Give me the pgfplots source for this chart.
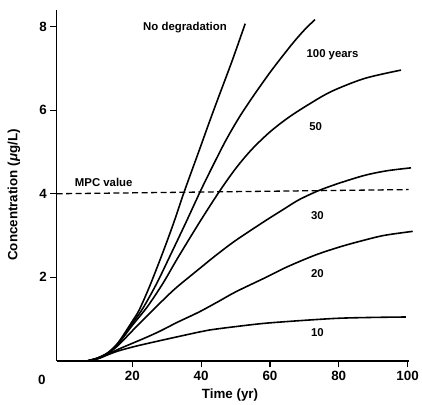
\documentclass[border=0pt]{standalone}
\usepackage{pgfplots}
\pgfplotsset{compat=1.18}
\usepackage{fontspec}
\setmainfont{Liberation Sans}
\pgfplotsset{curve/.style={black, solid, line width=1.6bp, smooth, mark=none}}
\begin{document}
\begin{tikzpicture}
\begin{axis}[
  scale only axis,
  width=354bp, height=353bp,
  xmin=-2, xmax=100.3,
  ymin=0, ymax=8.4,
  axis x line=bottom, axis y line=left,
  axis line style={-, line width=1.3bp},
  xtick={20,40,60,80,100},
  xticklabels={\textbf{20},\textbf{40},\textbf{60},\textbf{80},\textbf{100}},
  ytick={2,4,6,8},
  yticklabels={\textbf{2},\textbf{4},\textbf{6},\textbf{8}},
  tick align=outside,
  major tick length=6.5bp,
  tick style={line width=1.2bp, black},
  ticklabel style={font=\fontsize{13.5}{16}\selectfont\bfseries},
  clip=false,
]
% no degradation
\addplot[curve] coordinates {(7,0)(10,0.07)(13,0.2)(16,0.45)(20,0.95)(22,1.22)(25,1.78)(28.8,2.58)(32,3.3)(35,4.03)(39.4,5.03)(42.4,5.72)(45,6.3)(49,7.18)(52.8,8.07)};
% 100 years
\addplot[curve] coordinates {(7,0)(10,0.07)(13,0.2)(16,0.43)(20,0.9)(23,1.25)(27,1.84)(31,2.52)(35.5,3.3)(39.6,4.03)(42.5,4.52)(47,5.25)(51,5.82)(55,6.32)(59.8,6.88)(62,7.12)(66.6,7.6)(70,7.92)(73.1,8.17)};
% 50
\addplot[curve] coordinates {(7,0)(10,0.07)(13,0.19)(16,0.42)(20,0.85)(24.4,1.3)(29,1.87)(33.1,2.45)(39.4,3.3)(45.1,4.03)(50,4.6)(54.7,5.06)(60,5.48)(65.3,5.82)(71.1,6.13)(77.9,6.45)(87.5,6.76)(98.1,6.96)};
% 30
\addplot[curve] coordinates {(7,0)(10,0.06)(13,0.18)(16,0.38)(20,0.72)(24,1.05)(28,1.38)(32.6,1.74)(39.4,2.2)(44.2,2.52)(50,2.88)(58.6,3.35)(64,3.63)(68.3,3.85)(74,4.07)(80,4.25)(87.5,4.44)(94,4.55)(101,4.62)};
% 20
\addplot[curve] coordinates {(7,0)(10,0.06)(13,0.16)(16,0.28)(20,0.42)(24,0.56)(28,0.71)(33,0.92)(39.4,1.17)(45,1.42)(50,1.65)(58.6,1.99)(65,2.25)(73.1,2.53)(80,2.72)(85.6,2.85)(93,3.0)(101.5,3.1)};
% 10
\addplot[curve] coordinates {(7,0)(10,0.05)(13,0.15)(16,0.24)(20,0.33)(23,0.39)(30,0.52)(39.4,0.69)(42.5,0.74)(50,0.82)(58.6,0.9)(70,0.97)(80,1.02)(90,1.04)(99.5,1.05)};
% MPC value
\addplot[black, line width=1.3bp, dash pattern=on 6bp off 3.5bp, sharp plot, mark=none] coordinates {(-2,4.0)(100.3,4.1)};

\begin{scope}[every node/.style={font=\fontsize{11.5}{13}\selectfont\bfseries}]
\node at (axis cs:35.3,7.98) {No degradation};
\node at (axis cs:78.2,7.33) {100 years};
\node at (axis cs:73.3,5.6) {50};
\node at (axis cs:73.8,3.48) {30};
\node at (axis cs:73.8,2.1) {20};
\node at (axis cs:73.8,0.67) {10};
\node[anchor=west] at (axis cs:2.3,4.26) {MPC value};
\end{scope}
\begin{scope}[every node/.style={font=\fontsize{13.5}{16}\selectfont\bfseries}]
\node at ([xshift=-15bp,yshift=-19bp]axis cs:-2,0) {0};
\node at ([yshift=-34bp]axis cs:48.4,0) {Time (yr)};
\node[rotate=90] at ([xshift=-43bp]axis cs:-2,3.97) {Concentration (\textit{μ}g/L)};
\end{scope}
\end{axis}
\path (-57bp,-42bp) rectangle (365bp,363bp);
\end{tikzpicture}
\end{document}
